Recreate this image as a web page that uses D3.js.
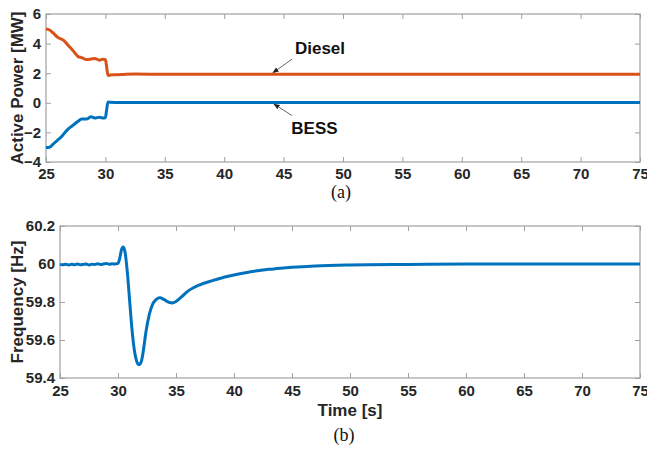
<!DOCTYPE html>
<html>
<head>
<meta charset="utf-8">
<script src="https://cdn.jsdelivr.net/npm/d3@7"></script>
<style>
  html, body { margin: 0; padding: 0; background: #fff; }
  svg { display: block; }
  .tick text { font-family: "Liberation Sans", Arial, sans-serif; font-weight: bold; font-size: 15px; fill: #262626; }
</style>
</head>
<body>
<svg id="chart" width="647" height="450"></svg>
<script>
// ---- data: panel (a) active power ----
const powerTime = [25, 25.3, 25.6, 26.0, 26.3, 26.45, 26.9, 27.3, 27.7, 28.0, 28.4, 28.8, 29.1, 29.5, 29.8, 30.0, 30.1, 30.22, 30.4, 30.8, 31.5, 32.5, 35, 45, 60, 75];
const dieselPower = [4.98, 4.92, 4.72, 4.41, 4.3, 4.24, 3.85, 3.5, 3.12, 3.05, 2.92, 2.96, 3.0, 2.88, 2.95, 2.92, 2.45, 1.85, 1.88, 1.9, 1.92, 1.94, 1.93, 1.93, 1.93, 1.93];
const bessPower   = [-3.02, -3.0, -2.8, -2.5, -2.3, -2.15, -1.75, -1.5, -1.25, -1.1, -1.1, -0.95, -1.03, -0.97, -1.03, -1.0, -0.5, 0.06, 0.03, 0.02, 0.02, 0.02, 0.02, 0.02, 0.02, 0.02];

// ---- data: panel (b) frequency ----
const freqTime = [25, 25.25, 25.5, 25.75, 26, 26.25, 26.5, 26.75, 27, 27.25, 27.5, 27.75, 28, 28.25, 28.5, 28.75, 29, 29.25, 29.5, 29.75, 30.0,
  30.15, 30.3, 30.45, 30.6, 30.8, 31.0, 31.2, 31.4, 31.6, 31.8, 32.0, 32.2, 32.4, 32.7, 33.0, 33.3, 33.6, 34.0, 34.4, 34.7, 35.0, 35.5, 36.0, 36.5, 37.0,
  38, 39, 40, 41, 42, 43, 44, 45, 47, 50, 55, 60, 75];
const frequency = [59.998, 59.996, 59.999, 59.995, 59.999, 59.996, 60.0, 59.996, 59.998, 60.0, 59.995, 59.999, 59.997, 60.001, 59.998, 60.0, 60.002, 59.999, 60.001, 60.0, 60.003,
  60.03, 60.075, 60.09, 60.065, 59.96, 59.81, 59.66, 59.55, 59.49, 59.47, 59.485, 59.55, 59.64, 59.735, 59.79, 59.814, 59.822, 59.812, 59.798, 59.795, 59.803, 59.828, 59.856, 59.875, 59.889,
  59.91, 59.928, 59.942, 59.954, 59.964, 59.972, 59.978, 59.983, 59.99, 59.995, 59.998, 60.0, 60.0];

// ---- axis ticks ----
const timeTicks = [25, 30, 35, 40, 45, 50, 55, 60, 65, 70, 75];
const powerTicks = [-4, -2, 0, 2, 4, 6];
const freqTicks = [59.4, 59.6, 59.8, 60, 60.2];

const svg = d3.select("#chart");
const axisColor = "#a0a0a0";
const labelFont = "'Liberation Sans', Arial, sans-serif";

function panel(box, yDomain, yTicks, yFormat, xPad) {
  const x = d3.scaleLinear().domain([25, 75]).range([box.left, box.right]);
  const y = d3.scaleLinear().domain(yDomain).range([box.bottom, box.top]);
  const g = svg.append("g");

  const styleAxis = sel => {
    sel.select(".domain").remove();
    sel.selectAll(".tick line").attr("stroke", axisColor).attr("stroke-width", 1);
  };

  g.append("g").attr("transform", `translate(0,${box.bottom})`)
    .call(d3.axisBottom(x).tickValues(timeTicks).tickFormat(d3.format("d")).tickSizeInner(-5).tickSizeOuter(0).tickPadding(xPad))
    .call(styleAxis);
  g.append("g").attr("transform", `translate(0,${box.top})`)
    .call(d3.axisTop(x).tickValues(timeTicks).tickFormat("").tickSizeInner(-5).tickSizeOuter(0))
    .call(styleAxis);
  g.append("g").attr("transform", `translate(${box.left},0)`)
    .call(d3.axisLeft(y).tickValues(yTicks).tickFormat(yFormat).tickSizeInner(-5).tickSizeOuter(0).tickPadding(5))
    .call(styleAxis);
  g.append("g").attr("transform", `translate(${box.right},0)`)
    .call(d3.axisRight(y).tickValues(yTicks).tickFormat("").tickSizeInner(-5).tickSizeOuter(0))
    .call(styleAxis);

  g.append("rect")
    .attr("x", box.left).attr("y", box.top)
    .attr("width", box.right - box.left).attr("height", box.bottom - box.top)
    .attr("fill", "none").attr("stroke", axisColor).attr("stroke-width", 1.2);

  return { x, y, g };
}

// ---- panel (a) ----
const pa = panel({ left: 46, right: 640, top: 14, bottom: 162 }, [-4, 6], powerTicks, d3.format("d"), 6);

const powerLine = vals => d3.line()
  .x((d, i) => pa.x(powerTime[i]))
  .y(d => pa.y(d))
  .curve(d3.curveMonotoneX)(vals);

pa.g.append("path").attr("d", powerLine(bessPower))
  .attr("fill", "none").attr("stroke", "#0072BD").attr("stroke-width", 3).attr("stroke-linejoin", "round");
pa.g.append("path").attr("d", powerLine(dieselPower))
  .attr("fill", "none").attr("stroke", "#D95319").attr("stroke-width", 3).attr("stroke-linejoin", "round");

svg.append("defs").append("marker")
  .attr("id", "arrowhead").attr("viewBox", "0 0 10 10")
  .attr("refX", 9).attr("refY", 5).attr("markerWidth", 7).attr("markerHeight", 7)
  .attr("orient", "auto-start-reverse")
  .append("path").attr("d", "M0,1 L10,5 L0,9 Z").attr("fill", "#222");

// annotations pointing at the settled traces around t = 44 s
const annTime = 44.1;
pa.g.append("line")
  .attr("x1", pa.x(annTime) + 19).attr("y1", pa.y(dieselPower[dieselPower.length - 1]) - 15)
  .attr("x2", pa.x(annTime)).attr("y2", pa.y(dieselPower[dieselPower.length - 1]) - 1.5)
  .attr("stroke", "#555").attr("stroke-width", 0.9).attr("marker-end", "url(#arrowhead)");
pa.g.append("line")
  .attr("x1", pa.x(annTime) + 19).attr("y1", pa.y(bessPower[bessPower.length - 1]) + 13)
  .attr("x2", pa.x(annTime) + 1).attr("y2", pa.y(bessPower[bessPower.length - 1]) + 1.5)
  .attr("stroke", "#555").attr("stroke-width", 0.9).attr("marker-end", "url(#arrowhead)");

pa.g.append("text").text("Diesel")
  .attr("x", 320).attr("y", 54).attr("text-anchor", "middle")
  .attr("font-family", labelFont).attr("font-weight", "bold").attr("font-size", 17).attr("fill", "#111");
pa.g.append("text").text("BESS")
  .attr("x", 314.5).attr("y", 133.5).attr("text-anchor", "middle")
  .attr("font-family", labelFont).attr("font-weight", "bold").attr("font-size", 17).attr("fill", "#111");

svg.append("text").text("Active Power [MW]")
  .attr("transform", "translate(23,88) rotate(-90)").attr("text-anchor", "middle")
  .attr("font-family", labelFont).attr("font-weight", "bold").attr("font-size", 17).attr("fill", "#262626");

svg.append("text").text("(a)")
  .attr("x", 341).attr("y", 198).attr("text-anchor", "middle")
  .attr("font-family", "'Liberation Serif', 'Times New Roman', serif").attr("font-size", 18).attr("fill", "#111");

// ---- panel (b) ----
const pb = panel({ left: 60, right: 640, top: 226, bottom: 378 }, [59.4, 60.2], freqTicks, d => d3.format("~g")(d), 7);

pb.g.append("path")
  .attr("d", d3.line().x((d, i) => pb.x(freqTime[i])).y(d => pb.y(d)).curve(d3.curveMonotoneX)(frequency))
  .attr("fill", "none").attr("stroke", "#0072BD").attr("stroke-width", 3).attr("stroke-linejoin", "round");

svg.append("text").text("Frequency [Hz]")
  .attr("transform", "translate(23,302) rotate(-90)").attr("text-anchor", "middle")
  .attr("font-family", labelFont).attr("font-weight", "bold").attr("font-size", 17).attr("fill", "#262626");

svg.append("text").text("Time [s]")
  .attr("x", 350).attr("y", 416).attr("text-anchor", "middle")
  .attr("font-family", labelFont).attr("font-weight", "bold").attr("font-size", 17).attr("fill", "#262626");

svg.append("text").text("(b)")
  .attr("x", 344).attr("y", 441).attr("text-anchor", "middle")
  .attr("font-family", "'Liberation Serif', 'Times New Roman', serif").attr("font-size", 18).attr("fill", "#111");
</script>
</body>
</html>
